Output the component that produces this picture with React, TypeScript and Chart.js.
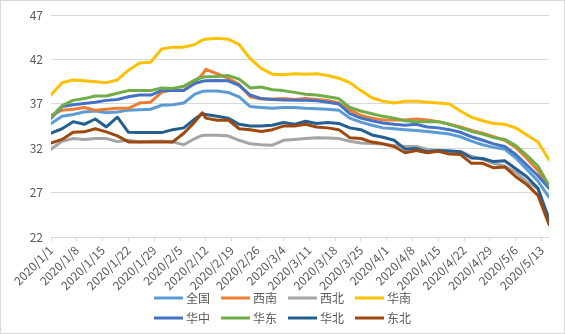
import React, { useEffect, useRef } from 'react';
import { Chart, registerables } from 'chart.js';

Chart.register(...registerables);

// Day offsets from 2020/1/1 at which values were read
const sampleDays = [0, 3, 6, 9, 12, 15, 18, 21, 24, 27, 30, 33, 36, 39, 41, 42, 45, 48, 51, 54, 57, 60, 63, 66, 69, 72, 75, 78, 81, 84, 87, 90, 93, 96, 99, 102, 105, 108, 111, 114, 117, 120, 123, 126, 129, 132, 135];

const tickLabels = ['2020/1/1', '2020/1/8', '2020/1/15', '2020/1/22', '2020/1/29', '2020/2/5', '2020/2/12', '2020/2/19', '2020/2/26', '2020/3/4', '2020/3/11', '2020/3/18', '2020/3/25', '2020/4/1', '2020/4/8', '2020/4/15', '2020/4/22', '2020/4/29', '2020/5/6', '2020/5/13'];

const seriesNames = ['全国', '西南', '西北', '华南', '华中', '华东', '华北', '东北'];
const seriesColors = ['#5B9BD5', '#ED7D31', '#A5A5A5', '#FFC000', '#4472C4', '#70AD47', '#255E91', '#9E480E'];

const quanguo = [34.8, 35.6, 35.8, 36.1, 36.2, 36.0, 36.1, 36.3, 36.35, 36.4, 36.85, 36.9, 37.1, 38.1, 38.4, 38.45, 38.45, 38.3, 37.8, 36.7, 36.6, 36.5, 36.6, 36.6, 36.5, 36.45, 36.4, 36.3, 35.4, 34.95, 34.6, 34.3, 34.2, 34.1, 34.0, 33.9, 33.75, 33.6, 33.3, 32.8, 32.4, 32.1, 31.9, 30.9, 29.6, 28.3, 26.5];
const xinan = [35.7, 36.3, 36.4, 36.6, 36.3, 36.4, 36.5, 36.5, 37.1, 37.2, 38.3, 38.6, 38.55, 39.5, 40.3, 40.9, 40.4, 39.9, 39.2, 37.8, 37.55, 37.55, 37.6, 37.5, 37.6, 37.5, 37.4, 37.1, 36.3, 35.7, 35.4, 35.2, 35.2, 35.2, 35.3, 35.2, 35.0, 34.7, 34.4, 34.0, 33.7, 33.3, 32.9, 32.1, 30.85, 29.5, 27.6];
const xibei = [31.9, 32.8, 33.1, 33.0, 33.1, 33.1, 32.75, 32.9, 32.72, 32.8, 32.83, 32.72, 32.4, 33.1, 33.45, 33.47, 33.47, 33.4, 32.9, 32.5, 32.4, 32.35, 32.9, 33.0, 33.1, 33.2, 33.15, 33.1, 32.8, 32.6, 32.55, 32.47, 32.3, 32.2, 32.2, 31.9, 31.75, 31.7, 31.65, 31.1, 30.75, 30.3, 30.0, 29.3, 28.2, 27.4, 24.2];
const huanan = [38.0, 39.4, 39.7, 39.6, 39.5, 39.4, 39.7, 40.8, 41.6, 41.7, 43.2, 43.4, 43.4, 43.7, 44.2, 44.3, 44.4, 44.3, 43.7, 42.1, 41.0, 40.35, 40.3, 40.4, 40.35, 40.4, 40.2, 39.9, 39.4, 38.5, 37.7, 37.3, 37.1, 37.3, 37.3, 37.2, 37.1, 37.0, 36.2, 35.5, 35.1, 34.8, 34.7, 34.3, 33.5, 32.7, 30.7];
const huazhong = [35.4, 36.7, 36.9, 37.05, 37.2, 37.4, 37.5, 37.8, 38.0, 38.0, 38.5, 38.5, 38.5, 39.3, 39.55, 39.6, 39.65, 39.6, 39.1, 38.0, 37.6, 37.5, 37.45, 37.4, 37.4, 37.35, 37.2, 37.0, 35.9, 35.4, 35.1, 34.85, 34.7, 34.6, 34.7, 34.4, 34.3, 34.1, 33.8, 33.3, 32.9, 32.5, 32.2, 31.3, 30.1, 28.9, 27.5];
const huadong = [35.5, 36.8, 37.4, 37.6, 37.9, 37.9, 38.2, 38.5, 38.5, 38.5, 38.8, 38.75, 39.0, 39.7, 40.0, 40.05, 40.1, 40.2, 39.8, 38.8, 38.9, 38.6, 38.5, 38.3, 38.1, 38.0, 37.8, 37.6, 36.6, 36.2, 35.9, 35.6, 35.4, 35.1, 35.0, 35.0, 35.0, 34.7, 34.3, 33.9, 33.6, 33.2, 33.0, 32.3, 31.2, 30.0, 27.8];
const huabei = [33.7, 34.2, 35.0, 34.7, 35.3, 34.4, 35.5, 33.8, 33.77, 33.77, 33.77, 34.1, 34.3, 35.3, 35.9, 35.8, 35.6, 35.4, 34.7, 34.5, 34.5, 34.6, 34.9, 34.7, 35.05, 34.8, 34.9, 34.8, 34.3, 34.1, 33.5, 33.25, 32.9, 31.9, 31.97, 31.6, 31.75, 31.7, 31.6, 30.9, 30.85, 30.5, 30.6, 29.7, 28.8, 27.5, 23.9];
const dongbei = [32.6, 33.0, 33.8, 33.85, 34.2, 33.85, 33.4, 32.72, 32.72, 32.72, 32.72, 32.72, 33.7, 34.97, 36.0, 35.4, 35.15, 35.2, 34.2, 34.1, 33.9, 34.1, 34.5, 34.5, 34.7, 34.4, 34.3, 34.1, 33.2, 33.1, 32.7, 32.5, 32.2, 31.5, 31.75, 31.5, 31.65, 31.35, 31.3, 30.3, 30.3, 29.8, 29.9, 28.8, 27.9, 26.7, 23.4];

const yMin = 22;
const yMax = 47;
const yStep = 5;

const tickFont = { family: '"Noto Sans CJK SC", "Liberation Sans", sans-serif', size: 12 };
const textColor = '#595959';
const gridColor = '#D9D9D9';

const framePlugin = {
  id: 'frame',
  beforeDraw(chart: any) {
    const ctx = chart.ctx;
    ctx.save();
    ctx.fillStyle = '#FFFFFF';
    ctx.fillRect(0, 0, chart.width, chart.height);
    ctx.strokeStyle = gridColor;
    ctx.lineWidth = 1;
    ctx.strokeRect(0.5, 0.5, chart.width - 1, chart.height - 1);
    ctx.restore();
  },
};

const legendPlugin = {
  id: 'gridLegend',
  afterDraw(chart: any) {
    const ctx = chart.ctx;
    ctx.save();
    ctx.font = '12px "Noto Sans CJK SC", sans-serif';
    ctx.textBaseline = 'middle';
    ctx.textAlign = 'left';
    const lineLen = 29;
    const gap = 3;
    const spacing = 11;
    const perRow = 4;
    const itemW = seriesNames.map((n) => lineLen + gap + ctx.measureText(n).width);
    const colW = Math.max(...itemW) + spacing;
    const totalW = colW * perRow - spacing;
    const startX = Math.round((chart.width - totalW) / 2);
    seriesNames.forEach((name, i) => {
      const row = Math.floor(i / perRow);
      const col = i % perRow;
      const x = startX + col * colW;
      const y = chart.height - 36 + row * 20;
      ctx.strokeStyle = seriesColors[i];
      ctx.lineWidth = 3;
      ctx.beginPath();
      ctx.moveTo(x, y);
      ctx.lineTo(x + lineLen, y);
      ctx.stroke();
      ctx.fillStyle = textColor;
      ctx.fillText(name, x + lineLen + gap, y);
    });
    ctx.restore();
  },
};

export default function App() {
  const ref = useRef<HTMLCanvasElement>(null);
  useEffect(() => {
    document.body.style.margin = '0';
    const seriesValues = [quanguo, xinan, xibei, huanan, huazhong, huadong, huabei, dongbei];
    const chart = new Chart(ref.current as HTMLCanvasElement, {
      type: 'line',
      data: {
        datasets: seriesNames.map((name, i) => ({
          label: name,
          data: sampleDays.map((d, j) => ({ x: d, y: seriesValues[i][j] })),
          borderColor: seriesColors[i],
          backgroundColor: seriesColors[i],
          borderWidth: 3,
          pointRadius: 0,
          tension: 0,
          borderCapStyle: 'round',
          borderJoinStyle: 'round',
          order: seriesNames.length - i,
        })),
      },
      options: {
        responsive: false,
        animation: false,
        layout: { padding: { top: 15, right: 16, bottom: 37, left: 0 } },
        plugins: { legend: { display: false }, tooltip: { enabled: false } },
        scales: {
          x: {
            type: 'linear',
            min: sampleDays[0],
            max: sampleDays[sampleDays.length - 1],
            afterBuildTicks: (s: any) => {
              s.ticks = tickLabels.map((_, i) => ({ value: i * 7 }));
            },
            afterFit: (s: any) => {
              s.height = 60;
            },
            ticks: {
              autoSkip: false,
              minRotation: 45,
              maxRotation: 45,
              padding: 2,
              color: textColor,
              font: tickFont,
              callback: (v: any) => tickLabels[Math.round(v / 7)],
            },
            grid: { drawOnChartArea: false, drawTicks: true, tickLength: 4, color: gridColor },
            border: { display: true, color: gridColor, width: 1 },
          },
          y: {
            min: yMin,
            max: yMax,
            afterFit: (s: any) => {
              s.width = 51;
            },
            ticks: { stepSize: yStep, padding: 8, color: textColor, font: tickFont },
            grid: { color: gridColor, drawTicks: false },
            border: { display: false },
          },
        },
      },
      plugins: [framePlugin, legendPlugin],
    } as any);
    return () => chart.destroy();
  }, []);
  return <canvas ref={ref} width={565} height={334} style={{ display: 'block' }} />;
}
